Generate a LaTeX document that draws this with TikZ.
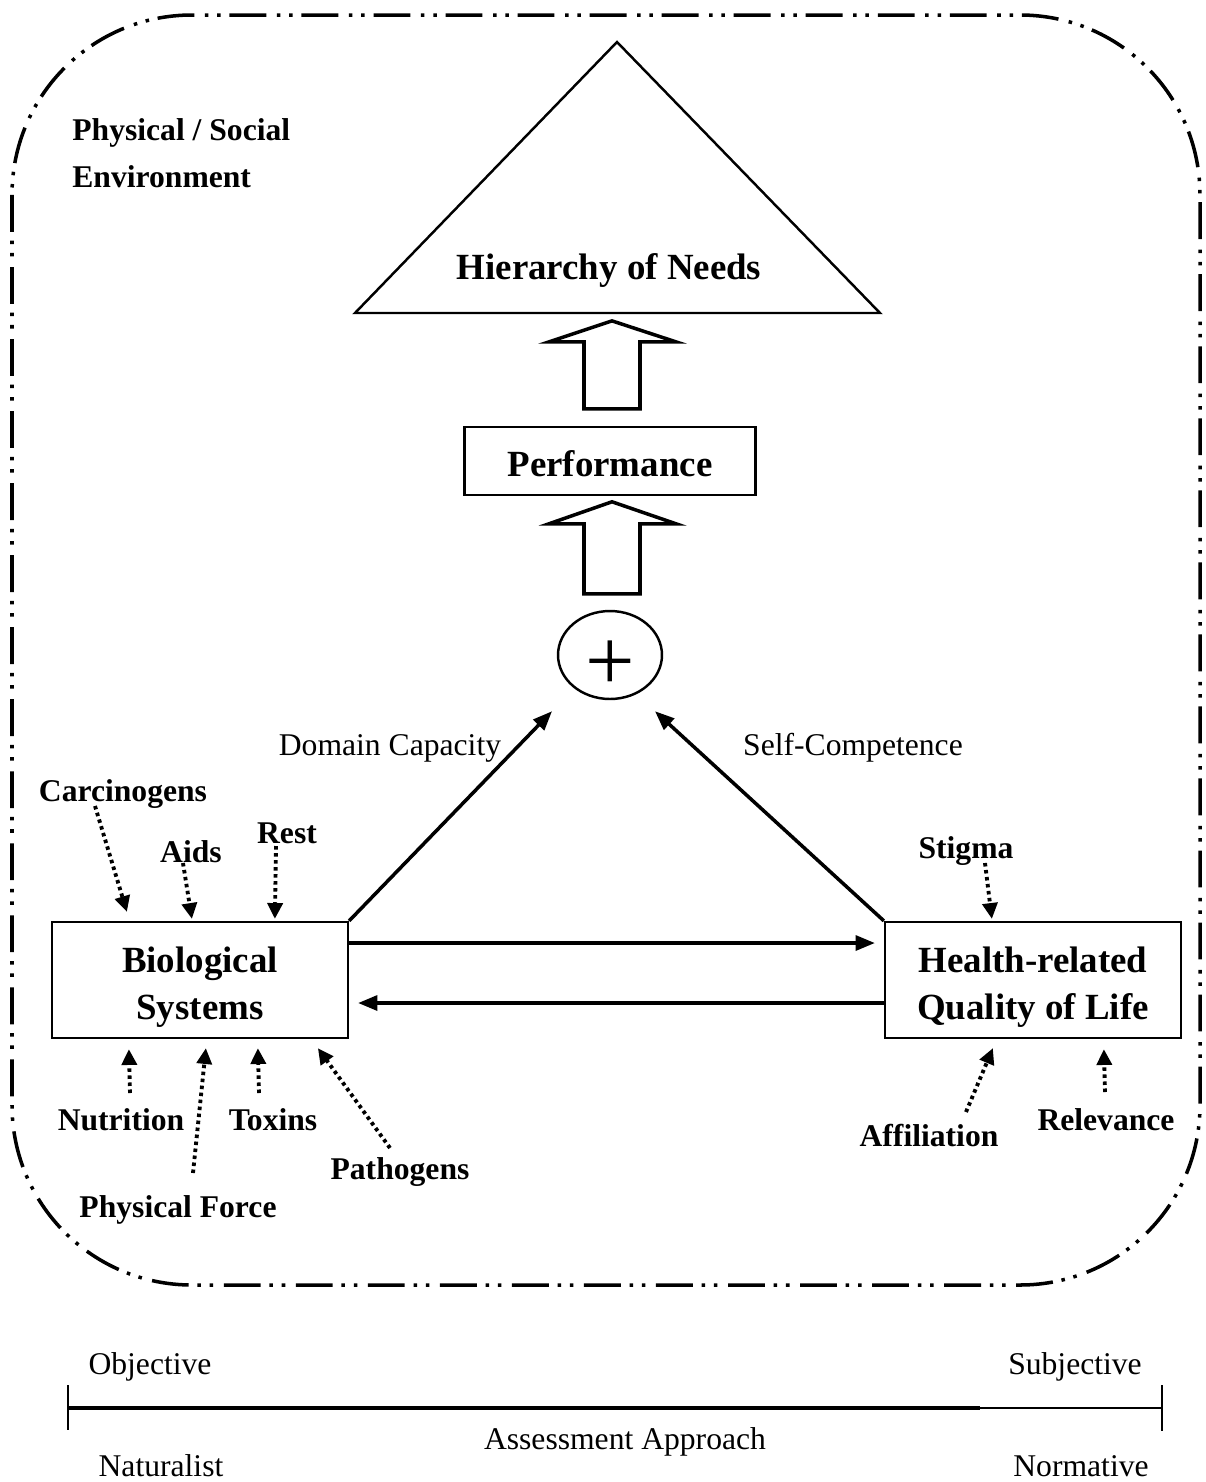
\documentclass[tikz,border=0pt]{standalone}
\usepackage{fontspec}
\setmainfont{Liberation Serif}
\usetikzlibrary{arrows.meta, calc, shapes.geometric}

\begin{document}
\begin{tikzpicture}[x=0.02cm, y=-0.02cm, >={Triangle[length=11pt, width=8.5pt]}]
 % We define the styles for the boxes, labels and the arrows
 \tikzset{
 box/.style = {draw, rectangle, line width=1.3pt, align=center, font=\bfseries\fontsize{21}{27}\selectfont},
 lab/.style = {inner sep=0pt, font=\bfseries\fontsize{18}{22}\selectfont},
 plainlab/.style = {inner sep=0pt, font=\fontsize{18}{22}\selectfont},
 conn/.style = {draw, ->, line width=2pt},
 influ/.style = {draw, -{Triangle[length=9pt, width=8.5pt]}, line width=2.2pt, dash pattern=on 2pt off 2pt},
 hollow/.style = {draw, line width=2pt, line join=miter},
 envline/.style = {draw, line width=2pt, dash pattern=on 21pt off 5pt on 2pt off 5pt on 2pt off 6pt},
 }
 \useasboundingbox (0,0) rectangle (1206,1482);

 % Environment frame
 \draw[envline, rounded corners=3.6cm] (12,15) rectangle (1200,1285);
 \node[lab, align=left, anchor=north west, font=\bfseries\fontsize{18}{27}\selectfont] (env) at (72,118) {Physical / Social\\Environment};

 % Hierarchy of needs
 \draw[line width=1.4pt] (355,313) -- (617,42) -- (880,313) -- cycle;
 \node[lab, font=\bfseries\fontsize{21}{27}\selectfont] (needs) at (609,270) {Hierarchy of Needs};

 % Performance and sum
 \node[box, minimum width=5.82cm, minimum height=1.36cm] (perf) at (610,461) {\raisebox{-1.5pt}[\height][\depth]{Performance}};
 \node[draw, ellipse, line width=1.4pt, minimum width=2.08cm, minimum height=1.76cm, inner sep=0pt] (plus) at (610,655) {\raisebox{-6pt}[\height][\depth]{\fontsize{50}{50}\selectfont +}};

 % Hollow arrows
 \draw[hollow] (plus.north) ++(-26,-16) -- ++(0,-70) -- ++(-35,0) -- ++(63,-22) -- ++(64,22) -- ++(-36,0) -- ++(0,70) -- cycle;
 \draw[hollow] (perf.north) ++(-26,-17) -- ++(0,-67) -- ++(-35,0) -- ++(63,-21) -- ++(64,21) -- ++(-36,0) -- ++(0,67) -- cycle;

 % Biological systems and quality of life
 \node[box, minimum width=5.92cm, minimum height=2.32cm] (bio) at (200,980) {\raisebox{-4pt}[\height][\depth]{Biological}\\\raisebox{-4pt}[\height][\depth]{Systems}};
 \node[box, minimum width=5.92cm, minimum height=2.32cm] (hrql) at (1033,980) {\raisebox{-4pt}[\height][\depth]{Health-related}\\\raisebox{-4pt}[\height][\depth]{Quality of Life}};

 % Arrows into the sum
 \draw[conn] (bio.north east) -- ($(plus.south)+(-58,11)$);
 \draw[conn] (hrql.north west) -- ($(plus.south)+(45,11)$);
 \node[plainlab] (domcap) at (390,748) {Domain Capacity};
 \node[plainlab] (selfcomp) at (853,748) {Self-Competence};

 % Arrows between the boxes
 \draw[conn, shorten >=0.18cm] ([yshift=0.74cm]bio.east) -- ([yshift=0.74cm]hrql.west);
 \draw[conn, shorten >=0.18cm] ([yshift=-0.46cm]hrql.west) -- ([yshift=-0.46cm]bio.east);

 % Influences on biological systems
 \node[lab] (carc) at (123,794) {Carcinogens};
 \node[lab] (aids) at (191,852) {Aids};
 \node[lab] (rest) at (287,833) {Rest};
 \node[lab] (nutr) at (121,1120) {Nutrition};
 \node[lab] (force) at (178,1210) {Physical Force};
 \node[lab] (tox) at (273,1120) {Toxins};
 \node[lab] (path) at (400,1172) {Pathogens};
 \draw[influ] (carc.center) ++(-28,12) -- ($(bio.north west)+(76,-9)$);
 \draw[influ] (aids.center) ++(-8,11) -- ($(bio.north west)+(141,-2)$);
 \draw[influ] (rest.center) ++(-11,13) -- ($(bio.north west)+(224,-2)$);
 \draw[influ] (nutr.center) ++(9,-27) -- ($(bio.south west)+(78,10)$);
 \draw[influ] (force.center) ++(15,-37) -- ($(bio.south west)+(155,9)$);
 \draw[influ] (tox.center) ++(-14,-27) -- ($(bio.south west)+(207,9)$);
 \draw[influ] (path.center) ++(-10,-24) -- ($(bio.south west)+(267,9)$);

 % Influences on quality of life
 \node[lab] (stig) at (966,851) {Stigma};
 \node[lab] (affil) at (929,1136) {Affiliation};
 \node[lab] (relev) at (1106,1120) {Relevance};
 \draw[influ] (stig.center) ++(19,12) -- ($(hrql.north west)+(108,-2)$);
 \draw[influ] (affil.center) ++(37,-24) -- ($(hrql.south west)+(109,9)$);
 \draw[influ] (relev.center) ++(-1,-28) -- ($(hrql.south west)+(220,10)$);

 % Assessment scale
 \coordinate (objend) at (68,1408);
 \coordinate (subjend) at (1162,1408);
 \draw[line width=2.2pt] (objend) -- (980,1408);
 \draw[line width=1.6pt] (980,1408) -- (subjend);
 \draw[line width=1.3pt] ([yshift=0.46cm]objend) -- ([yshift=-0.44cm]objend);
 \draw[line width=1.3pt] ([yshift=0.46cm]subjend) -- ([yshift=-0.46cm]subjend);
 \node[plainlab] (obj) at (150,1367) {Objective};
 \node[plainlab] (subj) at (1075,1367) {Subjective};
 \node[plainlab] (assess) at (625,1442) {Assessment Approach};
 \node[plainlab] (natur) at (161,1466) {Naturalist};
 \node[plainlab] (norm) at (1081,1466) {Normative};

\end{tikzpicture}
\end{document}
